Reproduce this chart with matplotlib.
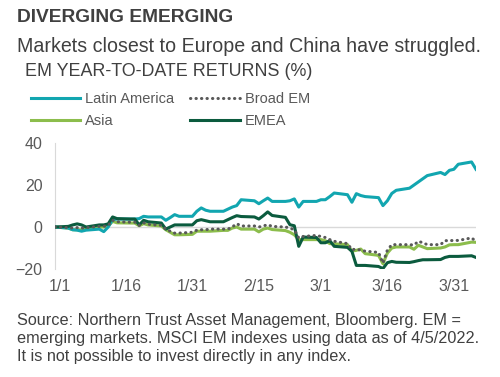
import pandas as pd
import matplotlib.pyplot as plt

plt.rcParams['font.family'] = ['Liberation Sans', 'DejaVu Sans']

# trading days, 12/31/2021 - 4/5/2022
dates = ['2021-12-31',
         '2022-01-03', '2022-01-04', '2022-01-05', '2022-01-06', '2022-01-07',
         '2022-01-10', '2022-01-11', '2022-01-12', '2022-01-13', '2022-01-14',
         '2022-01-17', '2022-01-18', '2022-01-19', '2022-01-20', '2022-01-21',
         '2022-01-24', '2022-01-25', '2022-01-26', '2022-01-27', '2022-01-28',
         '2022-01-31', '2022-02-01', '2022-02-02', '2022-02-03', '2022-02-04',
         '2022-02-07', '2022-02-08', '2022-02-09', '2022-02-10', '2022-02-11',
         '2022-02-14', '2022-02-15', '2022-02-16', '2022-02-17', '2022-02-18',
         '2022-02-21', '2022-02-22', '2022-02-23', '2022-02-24', '2022-02-25',
         '2022-02-28', '2022-03-01', '2022-03-02', '2022-03-03', '2022-03-04',
         '2022-03-07', '2022-03-08', '2022-03-09', '2022-03-10', '2022-03-11',
         '2022-03-14', '2022-03-15', '2022-03-16', '2022-03-17', '2022-03-18',
         '2022-03-21', '2022-03-22', '2022-03-23', '2022-03-24', '2022-03-25',
         '2022-03-28', '2022-03-29', '2022-03-30', '2022-03-31', '2022-04-01',
         '2022-04-04', '2022-04-05']

latin_america = [0,
                 -0.5, -1.3, -1.5, -2.0, -1.5,
                 -1.0, -2.2, 0.0, 3.5, 3.8,
                 3.8, 3.8, 4.0, 5.1, 4.8,
                 4.8, 3.2, 4.5, 5.9, 5.1,
                 5.1, 7.5, 9.1, 8.0, 7.5,
                 7.5, 8.5, 9.5, 10.2, 13.0,
                 12.5, 11.1, 12.5, 13.8, 12.2,
                 12.2, 12.5, 13.4, 9.5, 12.2,
                 12.2, 13.0, 13.0, 14.5, 16.2,
                 15.4, 11.8, 15.9, 15.0, 14.5,
                 14.0, 10.2, 12.5, 16.0, 17.5,
                 18.5, 20.0, 21.5, 23.0, 24.5,
                 26.0, 25.0, 27.0, 27.5, 29.9,
                 31.0, 27.5]

broad_em = [0,
            -0.3, -0.5, -0.3, -0.5, -0.3,
            0.3, 0.3, 0.8, 3.2, 2.5,
            2.3, 2.3, 0.8, 2.0, 1.3,
            0.8, -1.0, -2.0, -2.9, -2.9,
            -2.5, -1.5, -1.3, -1.3, -1.0,
            -1.0, -1.0, 0.0, 1.6, 0.5,
            0.5, 0.0, 0.5, 1.1, 0.3,
            0.0, -0.5, -1.3, -5.2, -4.5,
            -4.0, -4.5, -5.0, -6.0, -6.8,
            -7.9, -10.8, -10.5, -11.1, -11.5,
            -12.1, -17.2, -11.0, -8.4, -8.4,
            -8.4, -8.6, -6.8, -7.5, -8.4,
            -8.4, -6.5, -6.5, -6.4, -6.4,
            -5.2, -6.8]

asia = [0,
        -0.5, -1.3, -1.3, -1.3, -0.7,
        0.0, 0.0, 0.5, 2.7, 2.0,
        1.9, 1.9, 0.6, 1.6, 1.0,
        0.5, -1.3, -2.5, -3.7, -3.7,
        -3.5, -2.0, -2.0, -2.0, -2.0,
        -1.6, -1.6, -0.5, 0.0, -1.0,
        -1.0, -2.3, -1.0, -0.5, -1.2,
        -1.7, -2.5, -3.7, -6.0, -6.0,
        -6.0, -6.0, -6.5, -7.9, -8.0,
        -8.4, -11.5, -11.1, -10.5, -12.7,
        -13.5, -17.5, -12.4, -10.0, -9.5,
        -9.5, -10.6, -8.7, -9.5, -10.3,
        -10.0, -9.5, -8.5, -8.4, -8.4,
        -7.2, -7.3]

emea = [0,
        0.3, 1.0, 1.5, 1.0, 0.0,
        1.0, 1.0, 1.5, 4.8, 4.0,
        3.8, 3.8, 1.0, 3.2, 2.5,
        1.9, -1.0, 0.0, 1.0, 1.0,
        1.0, 3.0, 3.5, 3.0, 2.5,
        2.5, 3.5, 4.5, 5.4, 5.0,
        4.8, 3.8, 5.4, 7.2, 5.5,
        4.6, 1.1, 0.6, -9.2, -4.8,
        -5.0, -7.5, -7.5, -6.5, -9.2,
        -9.7, -11.6, -18.3, -18.3, -18.3,
        -18.8, -19.8, -17.0, -16.4, -16.8,
        -16.9, -16.5, -16.0, -15.6, -15.6,
        -15.5, -14.5, -14.0, -14.0, -14.0,
        -13.7, -14.5]

tick_dates = ['2022-01-01', '2022-01-16', '2022-01-31', '2022-02-15',
              '2022-03-01', '2022-03-16', '2022-03-31']
tick_labels = ['1/1', '1/16', '1/31', '2/15', '3/1', '3/16', '3/31']

x = pd.to_datetime(dates)

fig = plt.figure(figsize=(5, 3.77), dpi=100)
ax = fig.add_axes([0.11, 0.2865, 0.842, 0.334])

ax.axhline(0, color='#d9d9d9', lw=1, zorder=0)
ax.plot(x, latin_america, color='#12a6b0', lw=2.2, label='Latin America', zorder=3)
ax.plot(x, asia, color='#8cbd4c', lw=2.2, label='Asia', zorder=2)
ax.plot(x, broad_em, color='#595959', lw=2.2, linestyle=(0, (0.1, 1.7)),
        dash_capstyle='round', label='Broad EM', zorder=4)
ax.plot(x, emea, color='#0b5b3e', lw=2.2, label='EMEA', zorder=3)

ax.set_ylim(-20, 40)
ax.set_yticks([-20, 0, 20, 40])
ax.set_xlim(x[0], x[-1])
ax.set_xticks(pd.to_datetime(tick_dates))
ax.set_xticklabels(tick_labels)

for s in ['top', 'right', 'bottom']:
    ax.spines[s].set_visible(False)
ax.spines['left'].set_color('#d9d9d9')
ax.tick_params(length=0, labelsize=11.5, labelcolor='#595959')
ax.tick_params(axis='y', pad=9)
ax.tick_params(axis='x', pad=7)

handles, labels = ax.get_legend_handles_labels()
leg = fig.legend(handles, labels,
                 ncol=2, loc='upper left', bbox_to_anchor=(0.061, 0.757),
                 frameon=False, fontsize=10.5, handlelength=3.4,
                 handletextpad=0.35, columnspacing=1.1, labelspacing=0.6,
                 borderaxespad=0, borderpad=0)
for t in leg.get_texts():
    t.set_color('#595959')

fig.text(0.034, 0.976, 'DIVERGING EMERGING', fontsize=13.8, fontweight='bold',
         color='#404040', va='top')
fig.text(0.034, 0.902, 'Markets closest to Europe and China have struggled.',
         fontsize=14.1, color='#404040', va='top')
fig.text(0.05, 0.833, 'EM YEAR-TO-DATE RETURNS (%)', fontsize=12.9,
         color='#404040', va='top')
fig.text(0.034, 0.17,
         'Source: Northern Trust Asset Management, Bloomberg. EM =\n'
         'emerging markets. MSCI EM indexes using data as of 4/5/2022.\n'
         'It is not possible to invest directly in any index.',
         fontsize=11.7, color='#404040', va='top', linespacing=1.27)

plt.savefig('out.png')
